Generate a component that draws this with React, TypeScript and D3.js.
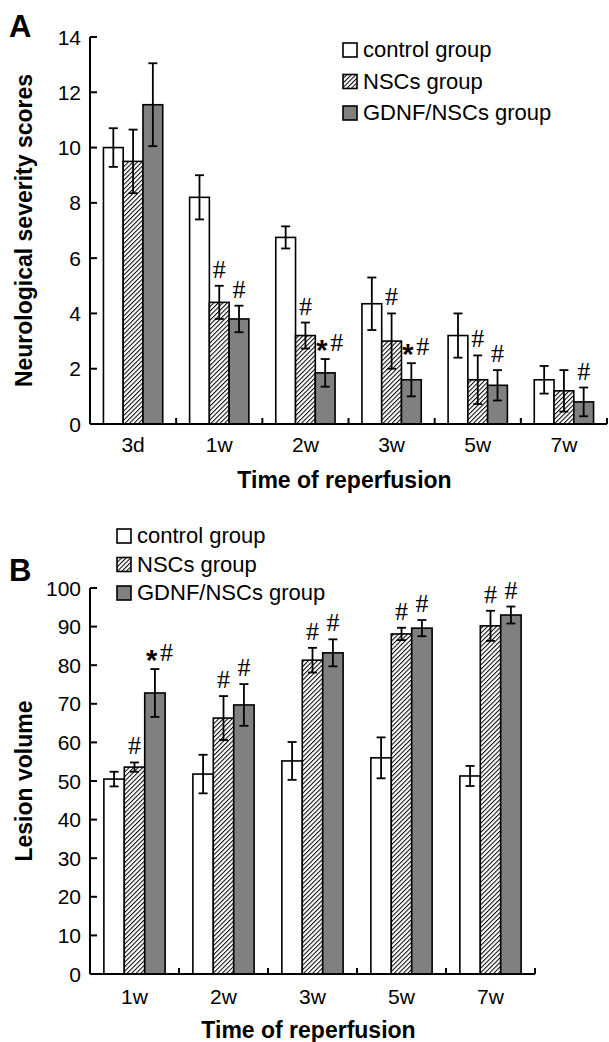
import React from "react";
import * as d3 from "d3";

const groups = ["control group", "NSCs group", "GDNF/NSCs group"];

// Panel A: neurological severity scores
const timesA = ["3d", "1w", "2w", "3w", "5w", "7w"];
const controlA = [10, 8.2, 6.75, 4.35, 3.2, 1.6];
const controlAErr = [0.7, 0.8, 0.4, 0.95, 0.8, 0.5];
const nscA = [9.5, 4.4, 3.2, 3.0, 1.6, 1.2];
const nscAErr = [1.15, 0.6, 0.47, 1.0, 0.88, 0.75];
const gdnfA = [11.55, 3.8, 1.85, 1.6, 1.4, 0.8];
const gdnfAErr = [1.5, 0.48, 0.5, 0.6, 0.55, 0.52];
const controlMarksA = ["", "", "", "", "", ""];
const nscMarksA = ["", "#", "#", "#", "#", ""];
const gdnfMarksA = ["", "#", "*#", "*#", "#", "#"];
const ticksA = [0, 2, 4, 6, 8, 10, 12, 14];

// Panel B: lesion volume
const timesB = ["1w", "2w", "3w", "5w", "7w"];
const controlB = [50.5, 51.8, 55.2, 56, 51.3];
const controlBErr = [1.9, 5, 4.9, 5.3, 2.6];
const nscB = [53.6, 66.3, 81.3, 88.1, 90.2];
const nscBErr = [1.2, 5.7, 3.2, 1.6, 3.9];
const gdnfB = [72.8, 69.7, 83.2, 89.6, 93.0];
const gdnfBErr = [6.2, 5.4, 3.5, 2.1, 2.2];
const controlMarksB = ["", "", "", "", ""];
const nscMarksB = ["#", "#", "#", "#", "#"];
const gdnfMarksB = ["*#", "#", "#", "#", "#"];
const ticksB = [0, 10, 20, 30, 40, 50, 60, 70, 80, 90, 100];

const FONT = "'Liberation Sans', Arial, Helvetica, sans-serif";
const SERIF = "'Liberation Serif', 'Times New Roman', serif";
const fills = ["#ffffff", "url(#hatch)", "#808080"];

type PanelProps = {
  letter: string;
  letterY: number;
  times: string[];
  values: number[][];
  errors: number[][];
  marks: string[][];
  ticks: number[];
  left: number;
  right: number;
  top: number;
  bottom: number;
  yTitle: string;
  xLabelY: number;
  xTitleY: number;
  legendX: number;
  legendY: number;
  legendStep: number;
};

function Panel(p: PanelProps) {
  const yMax = p.ticks[p.ticks.length - 1];
  const y = d3.scaleLinear().domain([0, yMax]).range([p.bottom, p.top]);
  const x0 = d3.scaleBand<string>().domain(p.times).range([p.left, p.right]).padding(0);
  const x1 = d3
    .scaleBand<string>()
    .domain(groups)
    .range([0, x0.bandwidth()])
    .paddingInner(0)
    .paddingOuter(0.68);
  const bw = x1.bandwidth();
  const cap = 4.5;
  const midY = (p.top + p.bottom) / 2;
  const midX = (p.left + p.right) / 2;

  return (
    <g>
      <text x={9} y={p.letterY} fontFamily={FONT} fontWeight="bold" fontSize={31}>
        {p.letter}
      </text>
      {/* bars */}
      {p.times.map((t, i) =>
        groups.map((g, s) => {
          const v = p.values[s][i];
          const bx = (x0(t) as number) + (x1(g) as number);
          return (
            <rect
              key={t + g}
              x={bx}
              y={y(v)}
              width={bw}
              height={y(0) - y(v)}
              fill={fills[s]}
              stroke="#000"
              strokeWidth={1.6}
            />
          );
        })
      )}
      {/* error bars */}
      {p.times.map((t, i) =>
        groups.map((g, s) => {
          const v = p.values[s][i];
          const e = p.errors[s][i];
          const cx = (x0(t) as number) + (x1(g) as number) + bw / 2;
          return (
            <g key={"e" + t + g} stroke="#000" strokeWidth={1.8}>
              <line x1={cx} x2={cx} y1={y(v + e)} y2={y(v - e)} />
              <line x1={cx - cap} x2={cx + cap} y1={y(v + e)} y2={y(v + e)} />
              <line x1={cx - cap} x2={cx + cap} y1={y(v - e)} y2={y(v - e)} />
            </g>
          );
        })
      )}
      {/* significance marks */}
      {p.times.map((t, i) =>
        groups.map((g, s) => {
          const m = p.marks[s][i];
          if (!m) return null;
          const v = p.values[s][i];
          const e = p.errors[s][i];
          const cx = (x0(t) as number) + (x1(g) as number) + bw / 2;
          const ty = y(v + e) - 8;
          if (m === "*#") {
            return (
              <g key={"m" + t + g}>
                <text x={cx - 9} y={ty + 9} fontFamily={FONT} fontWeight="bold" fontSize={29}>
                  *
                </text>
                <text x={cx + 5} y={ty} fontFamily={SERIF} fontSize={26}>
                  #
                </text>
              </g>
            );
          }
          return (
            <text key={"m" + t + g} x={cx} y={ty} textAnchor="middle" fontFamily={SERIF} fontSize={26}>
              {m}
            </text>
          );
        })
      )}
      {/* y axis */}
      <line x1={p.left} x2={p.left} y1={p.top} y2={p.bottom} stroke="#000" strokeWidth={2} />
      {p.ticks.map((tv) => (
        <g key={"yt" + tv}>
          <line x1={p.left} x2={p.left + 7} y1={y(tv)} y2={y(tv)} stroke="#000" strokeWidth={2} />
          <text
            x={p.left - 9}
            y={y(tv)}
            dy="0.36em"
            textAnchor="end"
            fontFamily={FONT}
            fontSize={21}
          >
            {tv}
          </text>
        </g>
      ))}
      {/* x axis */}
      <line x1={p.left} x2={p.right} y1={p.bottom} y2={p.bottom} stroke="#000" strokeWidth={2} />
      {p.times.map((t, i) => (
        <g key={"xt" + t}>
          {i > 0 && (
            <line
              x1={x0(t) as number}
              x2={x0(t) as number}
              y1={p.bottom}
              y2={p.bottom - 6}
              stroke="#000"
              strokeWidth={2}
            />
          )}
          <text
            x={(x0(t) as number) + x0.bandwidth() / 2}
            y={p.xLabelY}
            textAnchor="middle"
            fontFamily={FONT}
            fontSize={21}
          >
            {t}
          </text>
        </g>
      ))}
      <line x1={p.right} x2={p.right} y1={p.bottom} y2={p.bottom - 6} stroke="#000" strokeWidth={2} />
      {/* axis titles */}
      <text
        x={midX - 4}
        y={p.xTitleY}
        textAnchor="middle"
        fontFamily={FONT}
        fontWeight="bold"
        fontSize={23}
      >
        Time of reperfusion
      </text>
      <text
        transform={`translate(32,${midY}) rotate(-90)`}
        textAnchor="middle"
        fontFamily={FONT}
        fontWeight="bold"
        fontSize={23}
      >
        {p.yTitle}
      </text>
      {/* legend */}
      {groups.map((g, s) => (
        <g key={"lg" + g}>
          <rect
            x={p.legendX}
            y={p.legendY + s * p.legendStep - 14}
            width={14}
            height={14}
            fill={fills[s]}
            stroke="#000"
            strokeWidth={1.6}
          />
          <text
            x={p.legendX + 20}
            y={p.legendY + s * p.legendStep}
            fontFamily={FONT}
            fontSize={22}
          >
            {g}
          </text>
        </g>
      ))}
    </g>
  );
}

export default function App() {
  return (
    <svg
      width={609}
      height={1042}
      style={{ position: "absolute", left: 0, top: 0, background: "#fff" }}
    >
      <defs>
        <pattern
          id="hatch"
          patternUnits="userSpaceOnUse"
          width={3.2}
          height={3.2}
          patternTransform="rotate(45)"
        >
          <rect width={3.2} height={3.2} fill="#fff" />
          <line x1={0.5} y1={0} x2={0.5} y2={3.2} stroke="#000" strokeWidth={1} />
        </pattern>
      </defs>
      <Panel
        letter="A"
        letterY={37}
        times={timesA}
        values={[controlA, nscA, gdnfA]}
        errors={[controlAErr, nscAErr, gdnfAErr]}
        marks={[controlMarksA, nscMarksA, gdnfMarksA]}
        ticks={ticksA}
        left={90}
        right={607}
        top={37}
        bottom={424}
        yTitle="Neurological severity scores"
        xLabelY={452}
        xTitleY={488}
        legendX={343}
        legendY={57}
        legendStep={31.5}
      />
      <Panel
        letter="B"
        letterY={581}
        times={timesB}
        values={[controlB, nscB, gdnfB]}
        errors={[controlBErr, nscBErr, gdnfBErr]}
        marks={[controlMarksB, nscMarksB, gdnfMarksB]}
        ticks={ticksB}
        left={90}
        right={535}
        top={588}
        bottom={974}
        yTitle="Lesion volume"
        xLabelY={1004}
        xTitleY={1038}
        legendX={117}
        legendY={543}
        legendStep={28.5}
      />
    </svg>
  );
}
